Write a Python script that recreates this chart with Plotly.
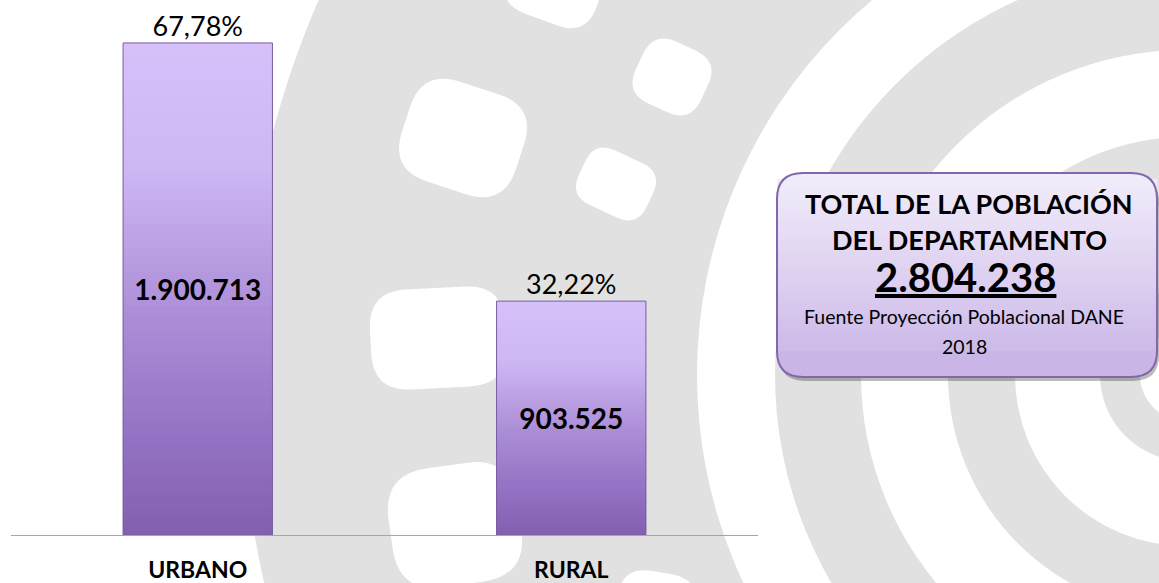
import math
import plotly.graph_objects as go

# data
categories = ["URBANO", "RURAL"]
population = [1900713, 903525]
box_title = ["TOTAL DE LA POBLACIÓN", "DEL DEPARTAMENTO"]
source_lines = ["Fuente Proyección Poblacional DANE", "2018"]

total = sum(population)


def fmt_int(v):
    return f"{v:,}".replace(",", ".")


def fmt_pct(v):
    return f"{v / total * 100:.2f}".replace(".", ",") + "%"


# page geometry (pixels); body margin is removed so figure == page
FIG_W, FIG_H = 1159, 583
PLOT_X0, PLOT_X1, PLOT_Y0, PLOT_Y1 = 11, 758, 10, 535
M_L, M_R = PLOT_X0, FIG_W - PLOT_X1
M_T, M_B = PLOT_Y0, FIG_H - PLOT_Y1
PLOT_W = PLOT_X1 - PLOT_X0
PLOT_H = PLOT_Y1 - PLOT_Y0
Y_MAX = 2028000


def px(x):
    return (x - PLOT_X0) / PLOT_W


def py(y):
    return (PLOT_Y1 - y) / PLOT_H


def lerp_color(stops, t):
    t = max(0.0, min(1.0, t))
    for (t0, c0), (t1, c1) in zip(stops, stops[1:]):
        if t <= t1:
            f = (t - t0) / (t1 - t0) if t1 > t0 else 0
            c = [round(a + (b - a) * f) for a, b in zip(c0, c1)]
            return f"rgb({c[0]},{c[1]},{c[2]})"
    c = stops[-1][1]
    return f"rgb({c[0]},{c[1]},{c[2]})"


def round_rect_path(cx, cy, w, h, r, ang=0.0, square_bottom=False):
    a, b = w / 2, h / 2
    cos, sin = math.cos(math.radians(ang)), math.sin(math.radians(ang))

    def p(x, y):
        X = cx + x * cos - y * sin
        Y = cy + x * sin + y * cos
        return f"{px(X):.5f},{py(Y):.5f}"

    d = f"M{p(-a + r, -b)} L{p(a - r, -b)} Q{p(a, -b)} {p(a, -b + r)} "
    if square_bottom:
        d += f"L{p(a, b)} L{p(-a, b)} "
    else:
        d += f"L{p(a, b - r)} Q{p(a, b)} {p(a - r, b)} L{p(-a + r, b)} Q{p(-a, b)} {p(-a, b - r)} "
    d += f"L{p(-a, -b + r)} Q{p(-a, -b)} {p(-a + r, -b)} Z"
    return d


GRAY = "#e1e1e1"
shapes = []

# watermark: concentric rings
ring_cx, ring_cy = 1186, 375
for rad, col in [(945, GRAY), (489, "white"), (411, GRAY), (325, "white"),
                 (238, GRAY), (171, "white"), (86, GRAY), (46, "white")]:
    shapes.append(dict(type="circle", xref="paper", yref="paper", layer="below",
                       x0=px(ring_cx - rad), x1=px(ring_cx + rad),
                       y0=py(ring_cy + rad), y1=py(ring_cy - rad),
                       fillcolor=col, line_width=0))

# watermark: rounded blobs
for cx, cy, w, h, ang in [(555, -18, 95, 80, 20), (672, 77, 72, 68, 25),
                          (463, 138, 120, 105, 18), (616, 184, 75, 60, 25),
                          (438, 338, 135, 100, -3), (455, 525, 130, 120, -8),
                          (655, 612, 80, 80, 10)]:
    shapes.append(dict(type="path", xref="paper", yref="paper", layer="below",
                       path=round_rect_path(cx, cy, w, h, min(w, h) * 0.38, ang),
                       fillcolor="white", line_width=0))

# info box
bx0, bx1, by0, by1, br = 777, 1157, 173, 377, 26
bcx, bcy = (bx0 + bx1) / 2, (by0 + by1) / 2
box_stops = [(0, (242, 237, 250)), (0.5, (222, 209, 241)), (1, (198, 178, 229))]
shapes.append(dict(type="path", xref="paper", yref="paper",
                   path=round_rect_path(bcx + 2, bcy + 4, bx1 - bx0, by1 - by0, br),
                   fillcolor="rgba(60,60,60,0.35)", line_width=0))
shapes.append(dict(type="path", xref="paper", yref="paper",
                   path=round_rect_path(bcx, bcy, bx1 - bx0, by1 - by0, br),
                   fillcolor=lerp_color(box_stops, 0.94), line_width=0))
N_BOX = 30
flat = by1 - br
for j in range(N_BOX, 0, -1):
    yb = by0 + (flat - by0) * j / N_BOX
    t = (by0 + (flat - by0) * (j - 0.5) / N_BOX - by0) / (by1 - by0)
    shapes.append(dict(type="path", xref="paper", yref="paper",
                       path=round_rect_path(bcx, (by0 + yb) / 2, bx1 - bx0, yb - by0, br,
                                            square_bottom=True),
                       fillcolor=lerp_color(box_stops, t), line_width=0))
shapes.append(dict(type="path", xref="paper", yref="paper",
                   path=round_rect_path(bcx, bcy, bx1 - bx0, by1 - by0, br),
                   fillcolor="rgba(0,0,0,0)", line=dict(color="#8466ad", width=2)))

fig = go.Figure()

# bars with vertical gradient: nested bars, shortest (darkest) on top
bar_stops = [(0, (214, 192, 250)), (0.25, (206, 184, 244)), (0.55, (172, 142, 215)),
             (0.8, (148, 114, 196)), (1.0, (131, 95, 175))]
N_BAR = 60
for j in range(N_BAR, 0, -1):
    fig.add_trace(go.Bar(
        x=categories, y=[v * j / N_BAR for v in population], width=0.4,
        marker=dict(color=lerp_color(bar_stops, 1 - (j - 0.5) / N_BAR), line_width=0),
        hoverinfo="skip", showlegend=False))

fig.add_trace(go.Bar(
    x=categories, y=population, width=0.4,
    marker=dict(color="rgba(0,0,0,0)", line=dict(color="#7a5ea3", width=1)),
    text=[fmt_int(v) for v in population], textposition="inside",
    insidetextanchor="middle", textangle=0, constraintext="none",
    textfont=dict(family="Lato", size=28, color="black", weight="bold"),
    hoverinfo="skip", showlegend=False))

fig.add_trace(go.Scatter(
    x=categories, y=population, mode="text",
    text=[fmt_pct(v) for v in population], textposition="top center",
    textfont=dict(family="Lato", size=27, color="black"),
    cliponaxis=False, hoverinfo="skip", showlegend=False))

annotations = [
    dict(text=box_title[0], x=px(969), y=py(204), size=27, bold=True),
    dict(text=box_title[1], x=px(969), y=py(239), size=27, bold=True),
    dict(text=f"<u>{fmt_int(total)}</u>", x=px(966), y=py(277), size=40, bold=True),
    dict(text=source_lines[0], x=px(964), y=py(316), size=19.5, bold=False),
    dict(text=source_lines[1], x=px(964), y=py(346), size=19.5, bold=False),
]
fig.update_layout(annotations=[
    dict(text=a["text"], x=a["x"], y=a["y"], xref="paper", yref="paper",
         xanchor="center", yanchor="middle", showarrow=False,
         font=dict(family="Lato", size=a["size"], color="black",
                   weight="bold" if a["bold"] else "normal"))
    for a in annotations
])

fig.update_layout(
    width=FIG_W, height=FIG_H,
    margin=dict(l=M_L, r=M_R, t=M_T, b=M_B, autoexpand=False),
    barmode="overlay",
    paper_bgcolor="white", plot_bgcolor="rgba(0,0,0,0)",
    shapes=shapes,
    xaxis=dict(showline=True, linecolor="#a6a6a6", linewidth=1, showgrid=False,
               zeroline=False, ticks="", ticklabelstandoff=14,
               tickfont=dict(family="Lato", size=23, color="black", weight="bold"),
               range=[-0.5, 1.5]),
    yaxis=dict(visible=False, range=[0, Y_MAX]),
    font=dict(family="Lato"),
)

fig.write_html("out.html", config={"displayModeBar": False},
               post_script="document.body.style.margin='0';")
